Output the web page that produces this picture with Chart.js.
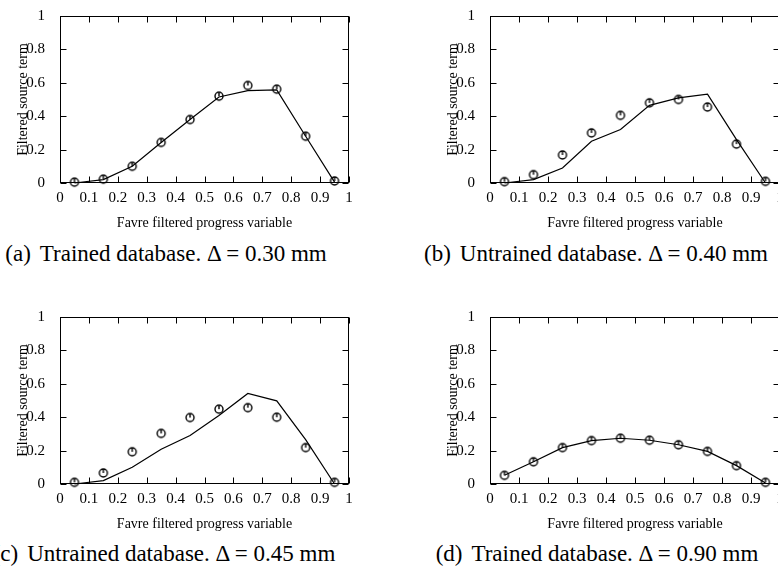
<!DOCTYPE html>
<html>
<head>
<meta charset="utf-8">
<script src="https://cdn.jsdelivr.net/npm/chart.js@4.4.1/dist/chart.umd.min.js"></script>
<style>
  body { margin: 0; width: 778px; height: 571px; overflow: hidden; position: relative; background: #fff; }
  canvas { position: absolute; }
  .cap { position: absolute; width: 400px; text-align: center; color: #000; white-space: nowrap;
         font: 23px/23px "Liberation Serif", serif; }
  .cap span { margin-right: 9px; }
</style>
</head>
<body>
<canvas id="chartA" width="360" height="235" style="left:0;top:0"></canvas>
<canvas id="chartB" width="361" height="235" style="left:430px;top:0"></canvas>
<canvas id="chartC" width="360" height="235" style="left:0;top:301px"></canvas>
<canvas id="chartD" width="361" height="235" style="left:430px;top:301px"></canvas>
<div class="cap" style="left:-34px;top:242px"><span>(a)</span>Trained database. Δ = 0.30 mm</div>
<div class="cap" style="left:396px;top:242px"><span>(b)</span>Untrained database. Δ = 0.40 mm</div>
<div class="cap" style="left:-36px;top:542px"><span>(c)</span>Untrained database. Δ = 0.45 mm</div>
<div class="cap" style="left:397px;top:542px"><span>(d)</span>Trained database. Δ = 0.90 mm</div>
<script>
// progress variable bins
const progress = [0.05, 0.15, 0.25, 0.35, 0.45, 0.55, 0.65, 0.75, 0.85, 0.95];

// line = model, circles = filtered DNS
const modelA = [0, 0.02, 0.10, 0.243, 0.38, 0.515, 0.553, 0.558, 0.28, 0.005];
const dnsA   = [0.005, 0.023, 0.10, 0.243, 0.38, 0.52, 0.584, 0.562, 0.28, 0.012];

const modelB = [0, 0.02, 0.09, 0.25, 0.32, 0.465, 0.51, 0.532, 0.26, 0];
const dnsB   = [0.008, 0.05, 0.168, 0.30, 0.405, 0.48, 0.50, 0.455, 0.233, 0.01];

const modelC = [0, 0.02, 0.10, 0.208, 0.29, 0.41, 0.542, 0.498, 0.266, 0];
const dnsC   = [0.01, 0.066, 0.193, 0.303, 0.398, 0.448, 0.457, 0.40, 0.218, 0.01];

const modelD = [0.052, 0.133, 0.218, 0.26, 0.274, 0.262, 0.235, 0.195, 0.11, 0.006];
const dnsD   = [0.052, 0.133, 0.218, 0.26, 0.274, 0.262, 0.235, 0.195, 0.11, 0.01];

const xTitle = 'Favre filtered progress variable';
const yTitle = 'Filtered source term';

const serif = '"Liberation Serif", "Times New Roman", serif';

// circle with a little stroke to the top, like the original symbol
function makeMarker() {
  const c = document.createElement('canvas');
  c.width = 12; c.height = 12;
  const g = c.getContext('2d');
  g.strokeStyle = '#000';
  g.lineWidth = 1.4;
  g.beginPath(); g.arc(6, 6, 4, 0, Math.PI * 2); g.stroke();
  g.beginPath(); g.moveTo(6, 2); g.lineTo(6, 6); g.stroke();
  return c;
}
const marker = makeMarker();

// box round the plot with inward ticks on all four sides
const frame = {
  id: 'frame',
  afterDraw(chart) {
    const { ctx, chartArea: a, scales: { x, y } } = chart;
    const L = Math.round(a.left) + 0.5, R = Math.round(a.right) - 0.5;
    const T = Math.round(a.top) + 0.5, B = Math.round(a.bottom) - 0.5;
    ctx.save();
    ctx.strokeStyle = '#000';
    ctx.lineWidth = 1;
    ctx.strokeRect(L, T, R - L, B - T);
    ctx.beginPath();
    x.ticks.forEach(t => {
      const px = Math.round(x.getPixelForValue(t.value)) + 0.5;
      ctx.moveTo(px, B); ctx.lineTo(px, B - 6);
      ctx.moveTo(px, T); ctx.lineTo(px, T + 6);
    });
    y.ticks.forEach(t => {
      const py = Math.round(y.getPixelForValue(t.value)) + 0.5;
      ctx.moveTo(L, py); ctx.lineTo(L + 6, py);
      ctx.moveTo(R, py); ctx.lineTo(R - 6, py);
    });
    ctx.stroke();
    ctx.restore();
  }
};

const fmt = v => String(+Number(v).toFixed(1));

function makePanel(id, model, dns) {
  const line = progress.map((p, i) => ({ x: p, y: model[i] }));
  const pts = progress.map((p, i) => ({ x: p, y: dns[i] }));
  return new Chart(document.getElementById(id), {
    type: 'scatter',
    data: {
      datasets: [
        { data: line, showLine: true, borderColor: '#000', borderWidth: 1.2,
          pointRadius: 0, fill: false, clip: false },
        { data: pts, showLine: false, pointStyle: marker, pointRadius: 6, clip: false }
      ]
    },
    options: {
      responsive: false,
      animation: false,
      devicePixelRatio: 1,
      events: [],
      layout: { padding: { top: 10, right: 11, left: 0, bottom: 0 } },
      plugins: { legend: { display: false }, tooltip: { enabled: false } },
      scales: {
        x: {
          type: 'linear', min: 0, max: 1,
          grid: { display: false },
          border: { display: false },
          ticks: { stepSize: 0.1, autoSkip: false, maxRotation: 0, padding: -2,
                   color: '#000', font: { family: serif, size: 15 }, callback: fmt },
          title: { display: true, text: xTitle, color: '#000',
                   font: { family: serif, size: 14 }, padding: { top: 0, bottom: 3 } },
          afterFit: s => { s.height = 52; }
        },
        y: {
          type: 'linear', min: 0, max: 1,
          grid: { display: false },
          border: { display: false },
          ticks: { stepSize: 0.2, padding: 7, color: '#000',
                   font: { family: serif, size: 15 }, callback: fmt },
          title: { display: true, text: yTitle, color: '#000',
                   font: { family: serif, size: 14 }, padding: { top: 15, bottom: 0 } },
          afterFit: s => { s.width = 60; }
        }
      }
    },
    plugins: [frame]
  });
}

makePanel('chartA', modelA, dnsA);
makePanel('chartB', modelB, dnsB);
makePanel('chartC', modelC, dnsC);
makePanel('chartD', modelD, dnsD);
</script>
</body>
</html>
